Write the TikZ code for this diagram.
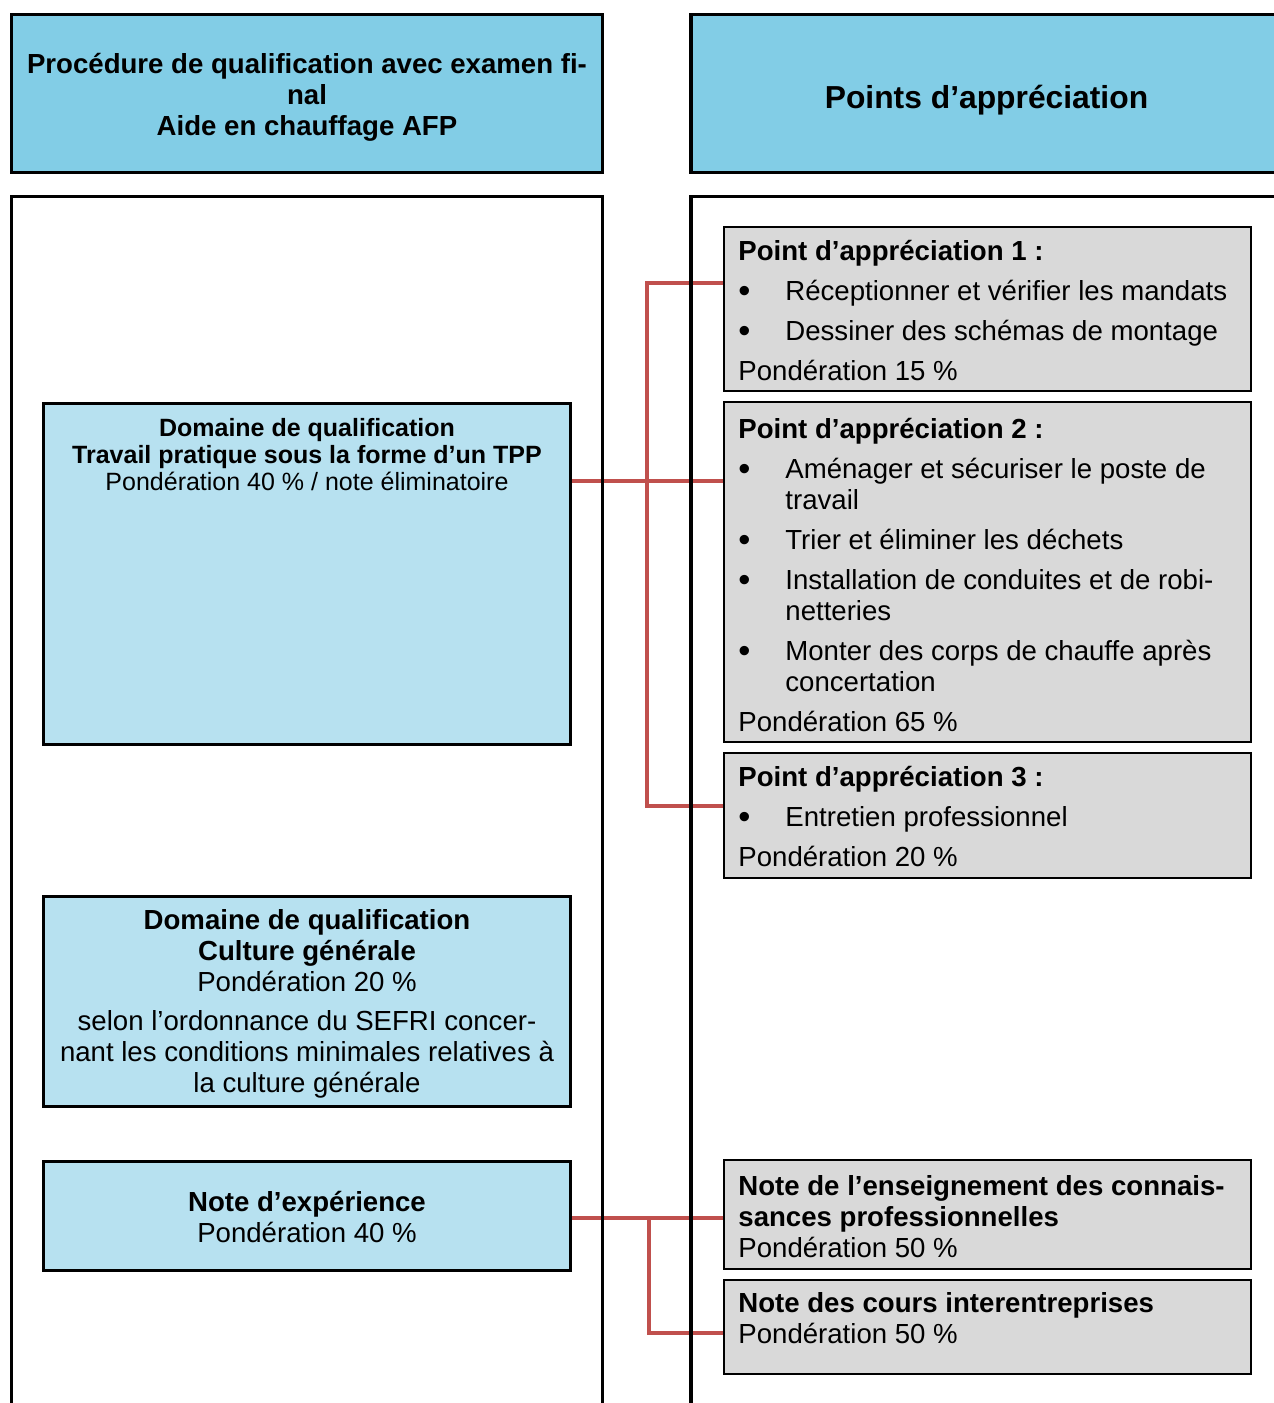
\documentclass[tikz,border=0pt]{standalone}
\usepackage{fontspec}
\setmainfont{Liberation Sans}
\usetikzlibrary{calc}
\definecolor{hdrblue}{RGB}{130,205,230}
\definecolor{boxblue}{RGB}{183,225,240}
\definecolor{boxgray}{RGB}{217,217,217}
\definecolor{linkred}{RGB}{192,80,77}
\newcommand\gbul{\makebox[23.5pt][l]{\raisebox{-0.07em}{\scalebox{1.25}{\textbullet}}}}
\newcommand\gind{\hspace*{23.5pt}}
\begin{document}
\begin{tikzpicture}[x=0.5pt,y=-0.5pt,
  hdr/.style={draw=black,line width=1.6pt,fill=hdrblue,minimum width=295.5pt,minimum height=79pt,inner sep=0pt},
  col/.style={draw=black,line width=1.6pt,minimum width=295.5pt,minimum height=611.75pt,inner sep=0pt},
  bbox/.style={draw=black,line width=1.6pt,fill=boxblue,minimum width=263.5pt,inner sep=0pt},
  gbox/.style={draw=black,line width=1.1pt,fill=boxgray,minimum width=263.5pt,inner sep=0pt},
  gtext/.style={anchor=north west,inner sep=0pt,align=left,font=\fontsize{13.8pt}{15.5pt}\selectfont},
  ctext/.style={inner sep=0pt,align=center,font=\fontsize{13.8pt}{15.5pt}\selectfont},
  link/.style={draw=linkred,line width=1.6pt},
]
\useasboundingbox (0,0) rectangle (1274,1403);

% headers
\node[hdr] (hl) at (307,93.5) {};
\node[ctext,font=\bfseries\fontsize{13.8pt}{15.5pt}\selectfont] (hlt) at (307,97.5)
  {Procédure de qualification avec examen fi-\\nal\\Aide en chauffage AFP};
\node[hdr] (hr) at (986.5,93.5) {};
\node[ctext,font=\bfseries\fontsize{15.9pt}{18pt}\selectfont] (hrt) at (986.5,100.5)
  {Points d’appréciation};

% left boxes
\node[bbox,minimum height=170.5pt] (tpp) at (307,574) {};
\node[anchor=north,inner sep=0pt,align=center,font=\fontsize{12.5pt}{13.5pt}\selectfont] (tppt) at (307,418)
  {\textbf{Domaine de qualification}\\\textbf{Travail pratique sous la forme d’un TPP}\\Pondération 40 \% / note éliminatoire};
\node[bbox,minimum height=105pt] (cg) at (307,1001.5) {};
\node[ctext] (cgt) at (307,1004)
  {\textbf{Domaine de qualification}\\\textbf{Culture générale}\\Pondération 20 \%\\[4pt]selon l’ordonnance du SEFRI concer-\\nant les conditions minimales relatives à\\la culture générale};
\node[bbox,minimum height=54.5pt] (ne) at (307,1216) {};
\node[ctext] (net) at (307,1216.5)
  {\textbf{Note d’expérience}\\Pondération 40 \%};

% right boxes
\node[gbox,minimum height=82pt] (p1) at (987.5,309) {};
\node[gbox,minimum height=170pt] (p2) at (987.5,572) {};
\node[gbox,minimum height=62.5pt] (p3) at (987.5,815.5) {};
\node[gbox,minimum height=54.5pt] (n1) at (987.5,1214.5) {};
\node[gbox,minimum height=47pt] (n2) at (987.5,1327) {};

\node[gtext] (p1t) at (738,239.5)
  {\textbf{Point d’appréciation 1 :}\\[4.5pt]
   \gbul Réceptionner et vérifier les mandats\\[4.5pt]
   \gbul Dessiner des schémas de montage\\[4.5pt]
   Pondération 15 \%};
\node[gtext] (p2t) at (738,417.5)
  {\textbf{Point d’appréciation 2 :}\\[4.5pt]
   \gbul Aménager et sécuriser le poste de\\
   \gind travail\\[4.5pt]
   \gbul Trier et éliminer les déchets\\[4.5pt]
   \gbul Installation de conduites et de robi-\\
   \gind netteries\\[4.5pt]
   \gbul Monter des corps de chauffe après\\
   \gind concertation\\[4.5pt]
   Pondération 65 \%};
\node[gtext] (p3t) at (738,765.5)
  {\textbf{Point d’appréciation 3 :}\\[4.5pt]
   \gbul Entretien professionnel\\[4.5pt]
   Pondération 20 \%};
\node[gtext] (n1t) at (738,1175.5)
  {\textbf{Note de l’enseignement des connais-}\\
   \textbf{sances professionnelles}\\
   Pondération 50 \%};
\node[gtext] (n2t) at (738,1292.5)
  {\textbf{Note des cours interentreprises}\\
   Pondération 50 \%};

% connectors
\coordinate (j1) at (647,481);
\coordinate (b1) at (647,283);
\coordinate (b3) at (647,806);
\path[link] (tpp.east |- j1) -- (p2.west |- j1);
\path[link] (p1.west |- b1) -- (b1) -- (b3) -- (p3.west |- b3);
\coordinate (j2) at (649,1218);
\coordinate (b5) at (649,1333);
\path[link] (ne.east |- j2) -- (n1.west |- j2);
\path[link] (j2) -- (b5) -- (n2.west |- b5);

% column frames
\node[col] (cl) at (307,808.25) {};
\node[col] (cr) at (986.5,808.25) {};
\end{tikzpicture}
\end{document}
